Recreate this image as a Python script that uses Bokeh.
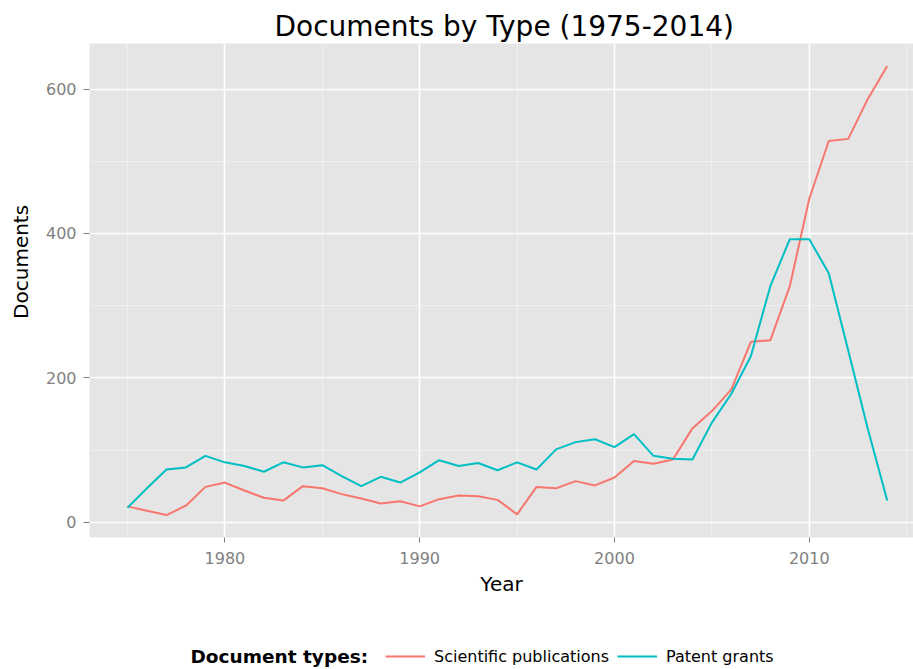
from bokeh.plotting import figure
from bokeh.layouts import column
from bokeh.models import Range1d, FixedTicker, Legend, LegendItem, Label, ColumnDataSource
from bokeh.embed import file_html
from bokeh.resources import INLINE

# ---- data ----
years = list(range(1975, 2015))
sci_pubs = [22, 16, 10, 23, 49, 55, 44, 34, 30, 50,
            47, 39, 33, 26, 29, 22, 32, 37, 36, 31,
            11, 49, 47, 57, 51, 62, 85, 81, 87, 130,
            154, 184, 250, 252, 327, 448, 528, 531, 586, 632]
patents = [20, 47, 73, 76, 92, 83, 78, 70, 83, 76,
           79, 64, 50, 63, 55, 69, 86, 78, 82, 72,
           83, 73, 101, 111, 115, 104, 122, 92, 88, 87,
           138, 178, 230, 327, 392, 392, 345, 238, 130, 30]
series_names = ["Scientific publications", "Patent grants"]
series_colors = ["#F8766D", "#00BFC4"]
x_major = [1980, 1990, 2000, 2010]
x_minor = [1975, 1985, 1995, 2005, 2015]
y_major = [0, 200, 400, 600]
y_minor = [100, 300, 500]
title_text = "Documents by Type (1975-2014)"
x_title = "Year"
y_title = "Documents"
legend_title = "Document types:"

FONT = "DejaVu Sans"

ymin = min(sci_pubs + patents)
ymax = max(sci_pubs + patents)
ypad = 0.05 * (ymax - ymin)
xpad = 0.05 * (years[-1] - years[0])

src = ColumnDataSource(data=dict(year=years, sci=sci_pubs, pat=patents))

# ---------------- main plot ----------------
p = figure(width=913, height=610, output_backend="svg", toolbar_location=None,
           x_range=Range1d(years[0] - xpad, 2015.35),
           y_range=Range1d(ymin - ypad, ymax + ypad),
           min_border_left=89, min_border_right=0, min_border_top=43,
           min_border_bottom=73, title=title_text)

p.background_fill_color = "#E5E5E5"
p.border_fill_color = "white"
p.outline_line_color = None

p.title.text_font = FONT
p.title.text_font_size = "28px"
p.title.text_font_style = "normal"
p.title.text_color = "black"
p.title.align = "left"
p.title.offset = 185
p.title.standoff = 1

p.xaxis.ticker = FixedTicker(ticks=x_major, minor_ticks=x_minor)
p.yaxis.ticker = FixedTicker(ticks=y_major, minor_ticks=y_minor)

for ax in (p.xaxis[0], p.yaxis[0]):
    ax.axis_line_color = None
    ax.major_tick_line_color = "#7F7F7F"
    ax.major_tick_line_width = 1
    ax.major_tick_in = 0
    ax.minor_tick_line_color = None
    ax.major_label_text_color = "#7F7F7F"
    ax.major_label_text_font = FONT
    ax.major_label_text_font_size = "16px"
    ax.axis_label_text_font = FONT
    ax.axis_label_text_font_size = "20px"
    ax.axis_label_text_font_style = "normal"
    ax.axis_label_text_color = "black"

p.xaxis.major_tick_out = 5
p.xaxis.major_label_standoff = 9
p.xaxis.axis_label = x_title
p.xaxis.axis_label_standoff = 5

p.yaxis.major_tick_out = 6
p.yaxis.major_label_standoff = 7
# non-breaking spaces lift the title a little above the panel centre, as in the reference
p.yaxis.axis_label = "\u00a0" * 9 + y_title
p.yaxis.axis_label_standoff = 10

for g in (p.xgrid[0], p.ygrid[0]):
    g.grid_line_color = "white"
    g.grid_line_width = 1.6
    g.minor_grid_line_color = "#F2F2F2"
    g.minor_grid_line_width = 0.8

p.line("year", "sci", source=src, line_color=series_colors[0], line_width=2)
p.line("year", "pat", source=src, line_color=series_colors[1], line_width=2)

# ---------------- legend strip ----------------
# (its frame is aligned with the main plot's frame, which starts at x = 89)
leg = figure(width=913, height=59, output_backend="svg", toolbar_location=None,
             x_range=p.x_range, y_range=p.y_range,
             x_axis_type=None, y_axis_type=None,
             min_border_left=0, min_border_right=0, min_border_top=0,
             min_border_bottom=0)
leg.outline_line_color = None
leg.background_fill_color = "white"
leg.border_fill_color = "white"

k1 = leg.line("year", "sci", source=src, line_color=series_colors[0],
              line_width=2, visible=False)
k2 = leg.line("year", "pat", source=src, line_color=series_colors[1],
              line_width=2, visible=False)

legend = Legend(items=[LegendItem(label=series_names[0], renderers=[k1]),
                       LegendItem(label=series_names[1], renderers=[k2])],
                orientation="horizontal", location=(296, 0),
                padding=0, margin=0, spacing=8,
                glyph_width=40, glyph_height=26, label_standoff=9,
                border_line_color=None, background_fill_alpha=0,
                label_text_font=FONT, label_text_font_size="16px",
                label_text_color="black", click_policy="none")
leg.add_layout(legend, "center")

leg.add_layout(Label(x=101, y=13, x_units="screen", y_units="screen",
                     text=legend_title, text_font=FONT, text_font_size="18.5px",
                     text_font_style="bold", text_color="black",
                     text_baseline="middle", text_align="left"))

layout = column(p, leg, spacing=0)
open("out.html", "w").write(file_html(layout, INLINE))
